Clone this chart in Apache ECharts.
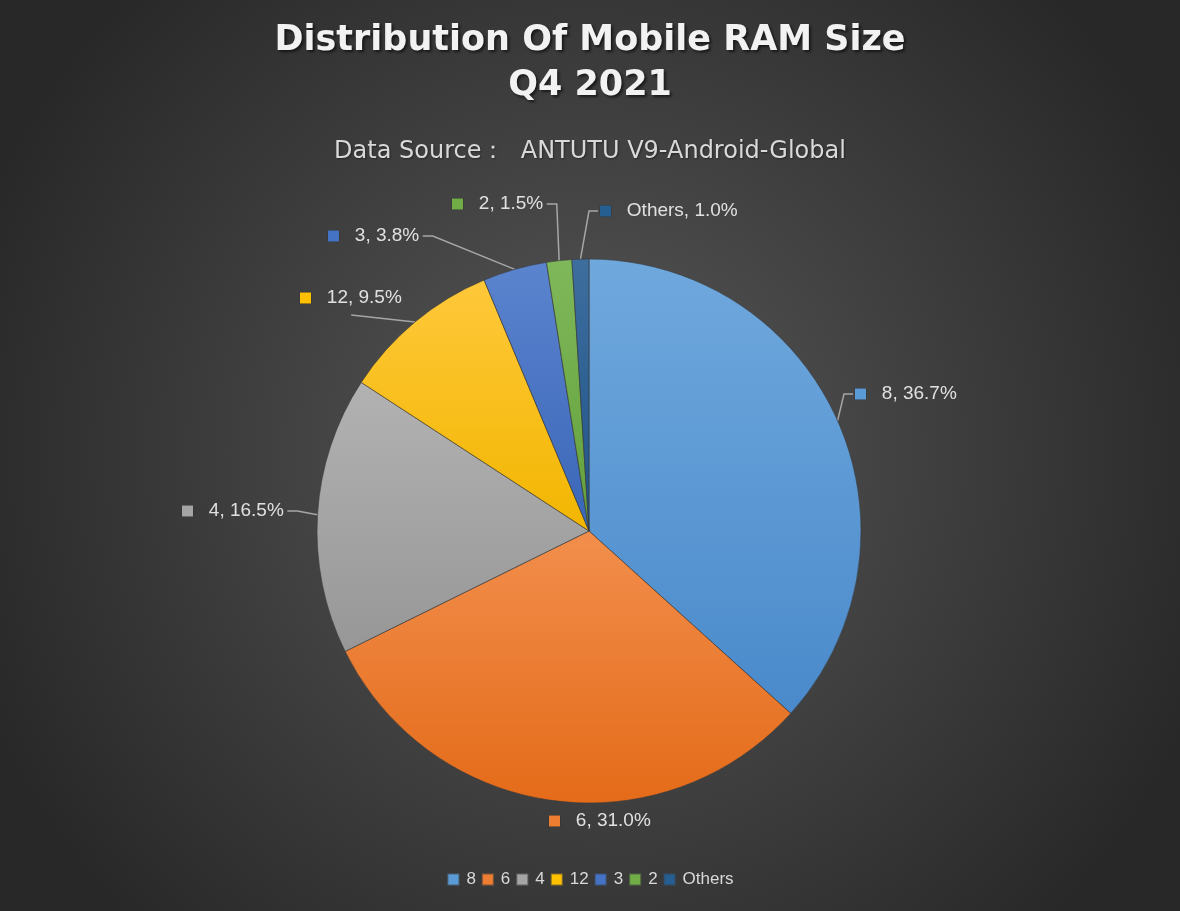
<!DOCTYPE html>
<html>
<head>
<meta charset="utf-8">
<script src="https://cdn.jsdelivr.net/npm/echarts@6/dist/echarts.min.js"></script>
<style>html,body{margin:0;padding:0;background:#333;}#c{width:1180px;height:911px;}</style>
</head>
<body>
<div id="c"></div>
<script>
// ---- data ----
const categories = ['8', '6', '4', '12', '3', '2', 'Others'];
const shares = [36.7, 31.0, 16.5, 9.5, 3.8, 1.5, 1.0];
const titleText = 'Distribution Of Mobile RAM Size\nQ4 2021';
const subtitleText = 'Data Source：  ANTUTU V9-Android-Global';

// ---- styles / layout ----
const baseColors = ['#5B9BD5', '#ED7D31', '#A5A5A5', '#FFC000', '#4472C4', '#70AD47', '#255E91'];
const topColors  = ['#6FA8DD', '#F28E4C', '#B2B2B2', '#FFC83A', '#5B84CE', '#7FB85A', '#3D6E9E'];
const botColors  = ['#4A8ACB', '#E46B19', '#979797', '#F2B600', '#3A66B8', '#63A03B', '#1F5388'];
// label anchor (left edge of marker, vertical middle) and leader-line style
const labelPos = [[855, 394], [549, 821], [182, 511], [300, 298], [328, 236], [452, 204], [600, 211]];
const lineMode = ['right', 'none', 'left', 'bottom', 'left', 'left', 'right'];

const chart = echarts.init(document.getElementById('c'));

const data = categories.map((c, i) => ({
  name: c,
  value: shares[i],
  itemStyle: {
    color: { type: 'linear', x: 0, y: 0, x2: 0, y2: 1,
      colorStops: [{ offset: 0, color: topColors[i] }, { offset: 1, color: botColors[i] }] }
  },
  label: {
    rich: { sq: { width: 11, height: 11, backgroundColor: baseColors[i], borderColor: 'rgba(40,40,40,0.5)', borderWidth: 0.5 } }
  },
  labelLine: { show: lineMode[i] !== 'none' }
}));

chart.setOption({
  backgroundColor: {
    type: 'radial', x: 0.5, y: 0.5, r: 0.72,
    colorStops: [{ offset: 0, color: '#585858' }, { offset: 1, color: '#282828' }]
  },
  title: [
    {
      text: titleText, left: 'center', top: 13,
      textStyle: {
        color: '#F2F2F2', fontSize: 35, fontWeight: 'bold', lineHeight: 45,
        fontFamily: 'DejaVu Sans, sans-serif',
        textShadowColor: 'rgba(0,0,0,0.6)', textShadowBlur: 3, textShadowOffsetX: 2, textShadowOffsetY: 2
      }
    },
    {
      text: subtitleText, left: 'center', top: 135,
      textStyle: { color: '#D9D9D9', fontSize: 24, fontWeight: 'normal', fontFamily: 'DejaVu Sans, sans-serif',
        textShadowColor: 'rgba(0,0,0,0.4)', textShadowBlur: 2, textShadowOffsetX: 1, textShadowOffsetY: 1 }
    }
  ],
  legend: {
    bottom: 18, left: 'center', icon: 'rect', itemWidth: 12, itemHeight: 12, itemGap: 5,
    textStyle: { color: '#D9D9D9', fontSize: 17, fontFamily: 'Liberation Sans, Arial, sans-serif', padding: [0, 0, 0, 2] },
    data: categories.map((c, i) => ({ name: c, itemStyle: { color: baseColors[i] } }))
  },
  series: [{
    type: 'pie',
    center: [589, 531],
    radius: [0, 272],
    startAngle: 90,
    clockwise: true,
    avoidLabelOverlap: false,
    data: data,
    itemStyle: { borderColor: 'rgba(60,60,60,0.6)', borderWidth: 0.6 },
    emphasis: { disabled: true },
    label: {
      show: true, position: 'outside',
      formatter: p => '{sq|}   ' + p.name + ', ' + p.value.toFixed(1) + '%',
      color: '#E0E0E0', fontSize: 19, fontFamily: 'Liberation Sans, Arial, sans-serif'
    },
    labelLine: { show: true, length: 10, length2: 10, lineStyle: { color: '#A6A6A6', width: 1.5 } },
    labelLayout: function (params) {
      const i = params.dataIndex;
      const [x, y] = labelPos[i];
      const w = params.labelRect.width;
      const start = params.labelLinePoints ? params.labelLinePoints[0] : [x, y];
      let pts;
      if (lineMode[i] === 'right') {
        pts = [start, [x - 11, y], [x - 2, y]];
      } else if (lineMode[i] === 'left') {
        pts = [start, [x + w + 13, y], [x + w + 3, y]];
      } else if (lineMode[i] === 'bottom') {
        const e = [x + w / 2, y + 17];
        pts = [start, e, e];
      } else {
        pts = [start, start, start];
      }
      return { x: x, y: y, align: 'left', verticalAlign: 'middle', hideOverlap: false, moveOverlap: null, labelLinePoints: pts };
    }
  }]
});
</script>
</body>
</html>
